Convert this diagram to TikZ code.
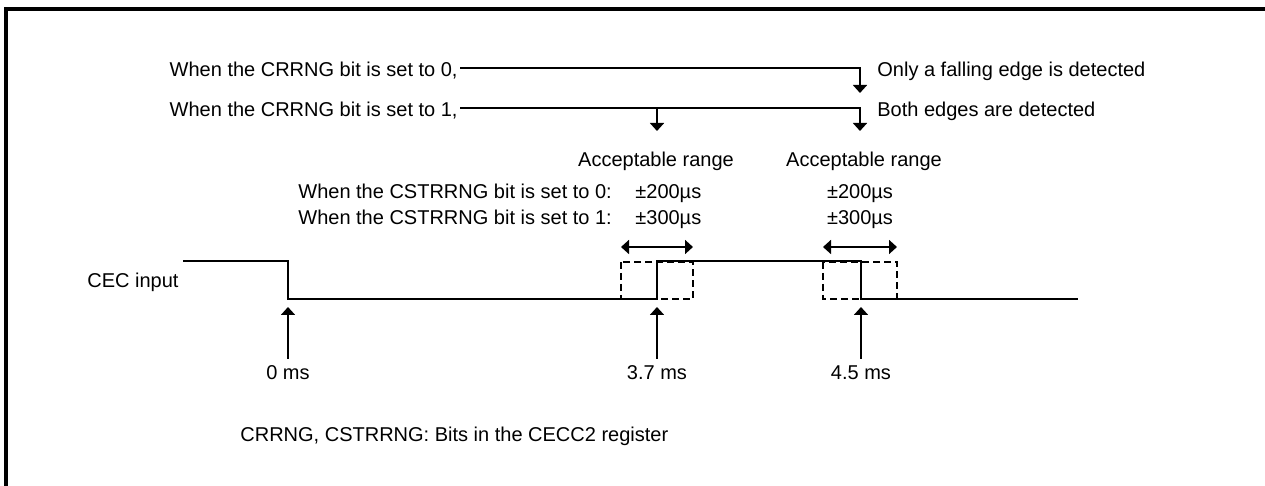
\documentclass[tikz,border=0pt]{standalone}
\usepackage{fontspec}
\setmainfont{Liberation Sans}
\usetikzlibrary{arrows.meta,positioning}

\begin{document}
\begin{tikzpicture}[x=0.5pt,y=-0.5pt, every node/.style={font=\fontsize{10}{12}\selectfont, inner sep=0pt},
  wire/.style={line width=0.85pt},
  tip/.style={wire, -{Triangle[length=4pt,width=7pt]}},
  twotip/.style={wire, {Triangle[length=4pt,width=7pt]}-{Triangle[length=4pt,width=7pt]}},
  window/.style={line width=1.25pt, dash pattern=on 3.5pt off 2pt}]
  % 1 unit = 1 pixel of the 1265 x 486 figure, y grows downwards
  \useasboundingbox (0,0) rectangle (1265,486);
  \draw[line width=1.6pt] (6,486) -- (6,9) -- (1265,9);

  % CRRNG selection rows
  \node[anchor=base east] (crr0) at (458,77) {When the CRRNG bit is set to 0,};
  \node[anchor=base east] (crr1) at (458,117) {When the CRRNG bit is set to 1,};
  \node[anchor=base west] (onlyfall) at (877,77) {Only a falling edge is detected};
  \node[anchor=base west] (bothedge) at (877,117) {Both edges are detected};
  \coordinate (tipA) at (860,93);
  \coordinate (tipB) at (657,131);
  \coordinate (tipC) at (860,131);
  \draw[tip] ([xshift=1pt,yshift=1.5pt]crr0.east) -| (tipA);
  \coordinate (row1) at ([xshift=1pt,yshift=1.5pt]crr1.east);
  \draw[tip] (row1) -| (tipC);
  \draw[tip] (row1 -| tipB) -- (tipB);

  % acceptable ranges
  \node[anchor=base] (acc1) at (656,167) {Acceptable range};
  \node[anchor=base] (acc2) at (864,167) {Acceptable range};
  \node[anchor=base west] (cst0) at (298,199) {When the CSTRRNG bit is set to 0:};
  \node[anchor=base west] (cst1) at (298,225) {When the CSTRRNG bit is set to 1:};
  \node[anchor=base west] (pmA0) at (635,199) {±200µs};
  \node[anchor=base west] (pmA1) at (635,225) {±300µs};
  \node[anchor=base] (pmB0) at (860,199) {±200µs};
  \node[anchor=base] (pmB1) at (860,225) {±300µs};
  \foreach \l/\r/\nm in {621/693/winA, 823/897/winB} {
    \coordinate (\nm l) at (\l,247);
    \coordinate (\nm r) at (\r,247);
    \draw[twotip] (\nm l) -- (\nm r);
    \draw[window] (\l,262) rectangle (\r,299);
  }

  % CEC input waveform
  \node[anchor=base west] (cec) at (87,288) {CEC input};
  \draw[wire] (183,261) -- (288,261) -- (288,299) -- (657,299) -- (657,261)
    -- (861,261) -- (861,299) -- (1078,299);

  % time marks
  \foreach \x/\t/\nm in {288/0 ms/mk0, 657/3.7 ms/mk1, 861/4.5 ms/mk2} {
    \node[anchor=base] (\nm) at (\x,380) {\t};
    \coordinate (\nm e) at (\x,307);
    \draw[tip] ([yshift=3.5pt]\nm.north) -- (\nm e);
  }

  \node[anchor=base west] (note) at (240,442) {CRRNG, CSTRRNG: Bits in the CECC2 register};
\end{tikzpicture}
\end{document}
